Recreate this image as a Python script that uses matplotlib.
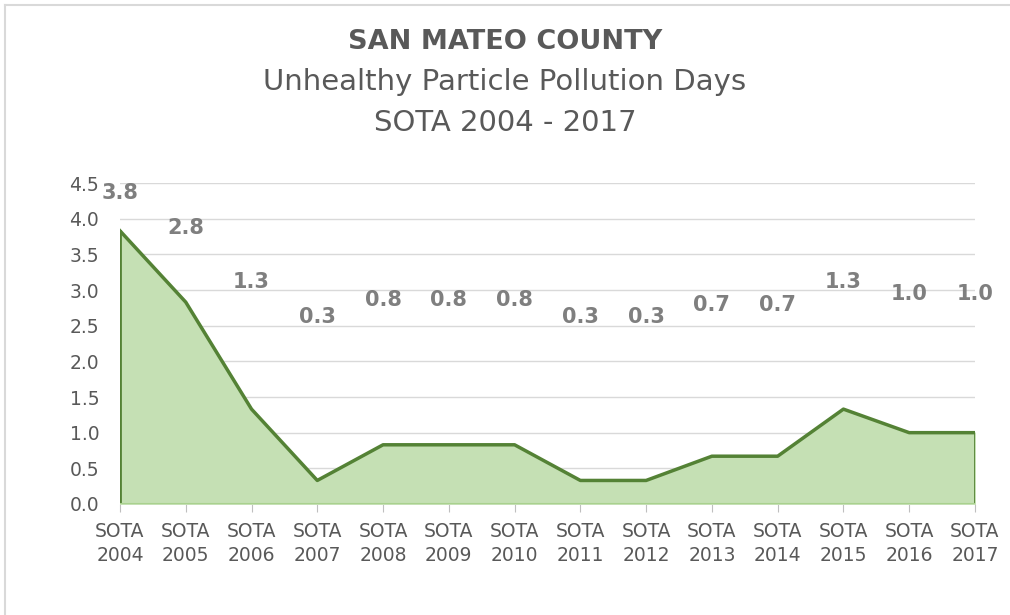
import matplotlib.pyplot as plt
from matplotlib.lines import Line2D

# data
years = ["2004", "2005", "2006", "2007", "2008", "2009", "2010",
         "2011", "2012", "2013", "2014", "2015", "2016", "2017"]
days = [3.83, 2.83, 1.33, 0.33, 0.83, 0.83, 0.83,
        0.33, 0.33, 0.67, 0.67, 1.33, 1.0, 1.0]
tick_labels = ["SOTA\n" + y for y in years]

text_grey = "#595959"
label_grey = "#7F7F7F"

fig = plt.figure(figsize=(10.1, 6.15), dpi=100)
ax = fig.add_axes([0.1188, 0.1805, 0.8465, 0.5219])

x = list(range(len(years)))
ax.fill_between(x, days, 0, color="#C5E0B4", zorder=2)
ax.plot(x, days, color="#548235", lw=2.5, zorder=3)
ax.plot([x[0], x[0]], [0, days[0]], color="#548235", lw=2, zorder=3)
ax.plot([x[-1], x[-1]], [0, days[-1]], color="#548235", lw=2, zorder=3)
ax.plot([x[0], x[-1]], [0, 0], color="#A9D18E", lw=1.5, zorder=3)

# data labels sit high above the line, as in the original
for xi, v in zip(x, days):
    ax.text(xi, 2.45 + v / 2, f"{v:.1f}", ha="center", va="center",
            fontsize=15, fontweight="bold", color=label_grey, zorder=4)

ax.set_xlim(0, len(years) - 1)
ax.set_ylim(0, 4.5)
ax.set_yticks([i * 0.5 for i in range(10)])
ax.set_yticklabels([f"{i * 0.5:.1f}" for i in range(10)])
ax.set_xticks(x)
ax.set_xticklabels(tick_labels, linespacing=1.3)
ax.tick_params(axis="y", length=0, labelsize=13.5, labelcolor=text_grey, pad=15)
ax.tick_params(axis="x", length=6, color="#BFBFBF", labelsize=13.5,
               labelcolor=text_grey, pad=7)
ax.grid(axis="y", color="#D9D9D9", lw=1, zorder=0)
for s in ax.spines.values():
    s.set_visible(False)

fig.text(0.5, 0.931, "SAN MATEO COUNTY", ha="center", va="center",
         fontsize=19.5, fontweight="bold", color=text_grey)
fig.text(0.5, 0.866, "Unhealthy Particle Pollution Days", ha="center", va="center",
         fontsize=21, color=text_grey)
fig.text(0.5, 0.8, "SOTA 2004 - 2017", ha="center", va="center",
         fontsize=21, color=text_grey)

# light frame at top and left
fig.add_artist(Line2D([0.005, 1.0], [0.992, 0.992], color="#D9D9D9", lw=1.5,
                      transform=fig.transFigure))
fig.add_artist(Line2D([0.005, 0.005], [0.0, 0.992], color="#D9D9D9", lw=1.5,
                      transform=fig.transFigure))

fig.savefig("out.png", dpi=100)
